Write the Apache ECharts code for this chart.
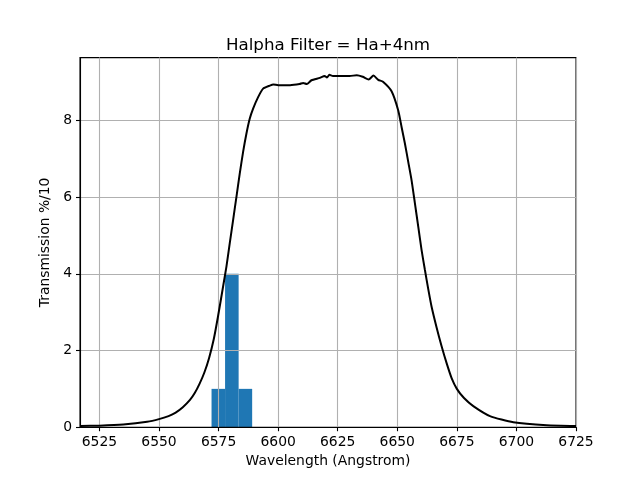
<!DOCTYPE html>
<html lang="en">
<head>
    <meta charset="UTF-8">
    <title>Halpha Filter = Ha+4nm</title>
    <script src="https://cdn.jsdelivr.net/npm/echarts@6/dist/echarts.min.js"></script>
    <style>
        html, body { margin: 0; padding: 0; background: #fff; }
    </style>
</head>
<body>
<div id="main" style="width: 640px;height:480px;"></div>

<script type="text/javascript">
    // filter transmission curve
    var wavelength = [6517, 6525, 6535, 6545, 6550, 6554, 6557, 6560, 6563, 6565,
        6567, 6569, 6571, 6573, 6574.8, 6576.9, 6578.3, 6579.7, 6581.1, 6582.5,
        6583.9, 6585.3, 6586.7, 6588.1, 6589.5, 6591.6, 6593.7, 6596.5, 6598, 6600,
        6605, 6609, 6610.5, 6612, 6614, 6617.5, 6619.5, 6620.5, 6621.5, 6623,
        6630, 6633, 6635.5, 6638, 6640, 6642, 6644, 6647.6, 6650.4, 6651.8,
        6653.2, 6654.6, 6656, 6657.4, 6658.8, 6660.2, 6661.6, 6663, 6664.4, 6666.5,
        6668.6, 6670.7, 6672.8, 6675, 6678, 6681.9, 6688.9, 6698.7, 6712.7, 6725];
    var transmission = [0.03, 0.04, 0.07, 0.14, 0.21, 0.29, 0.38, 0.52, 0.71, 0.89,
        1.13, 1.42, 1.80, 2.30, 2.90, 3.67, 4.19, 4.80, 5.40, 6.01,
        6.62, 7.18, 7.66, 8.05, 8.31, 8.61, 8.83, 8.91, 8.94, 8.92,
        8.92, 8.95, 8.98, 8.95, 9.05, 9.11, 9.16, 9.12, 9.19, 9.16,
        9.16, 9.18, 9.14, 9.07, 9.17, 9.06, 9.01, 8.76, 8.26, 7.83,
        7.40, 6.92, 6.44, 5.84, 5.23, 4.62, 4.10, 3.60, 3.14, 2.60,
        2.11, 1.67, 1.28, 1.00, 0.76, 0.55, 0.29, 0.13, 0.05, 0.03];

    // histogram of lines
    var binEdges = [6572.05, 6577.73, 6583.42, 6589.1];
    var binCounts = [1, 4, 1];

    var xTicks = [6525, 6550, 6575, 6600, 6625, 6650, 6675, 6700, 6725];
    var yTicks = [0, 2, 4, 6, 8];

    var lineData = wavelength.map(function (w, i) { return [w, transmission[i]]; });
    var histData = binCounts.map(function (c, i) { return [binEdges[i], binEdges[i + 1], c]; });

    var font = 'DejaVu Sans';
    var myChart = echarts.init(document.getElementById('main'));

    var option = {
        animation: false,
        title: {
            text: 'Halpha Filter = Ha+4nm',
            left: 323,
            textAlign: 'center',
            top: 32,
            textStyle: { fontFamily: font, fontSize: 16.7, fontWeight: 'normal', color: '#000' }
        },
        grid: {
            left: 80, right: 64, top: 57.6, bottom: 52.8,
            show: true, borderColor: '#000', borderWidth: 1.1, z: 2
        },
        xAxis: {
            type: 'value',
            min: 6516.85,
            max: 6725,
            z: 2,
            name: 'Wavelength (Angstrom)',
            nameLocation: 'middle',
            nameGap: 26,
            nameTextStyle: { fontFamily: font, fontSize: 13.9, color: '#000' },
            axisLine: { lineStyle: { color: '#000', width: 1.1 } },
            axisTick: { customValues: xTicks, length: 4, lineStyle: { color: '#000', width: 1.1 } },
            axisLabel: {
                customValues: xTicks, margin: 8, fontFamily: font, fontSize: 13.9, color: '#000',
                formatter: function (v) { return String(v); }
            },
            splitLine: { show: true, lineStyle: { color: '#b0b0b0', width: 1.1 } }
        },
        yAxis: {
            type: 'value',
            min: 0,
            max: 9.64,
            z: 2,
            name: 'Transmission %/10',
            nameLocation: 'middle',
            nameGap: 20,
            nameTextStyle: { fontFamily: font, fontSize: 13.9, color: '#000' },
            axisLine: { show: true, lineStyle: { color: '#000', width: 1.1 } },
            axisTick: { show: true, customValues: yTicks, length: 4, lineStyle: { color: '#000', width: 1.1 } },
            axisLabel: { customValues: yTicks, margin: 8, fontFamily: font, fontSize: 13.9, color: '#000' },
            splitLine: { show: true, lineStyle: { color: '#b0b0b0', width: 1.1 } }
        },
        series: [
            {
                type: 'custom',
                z: 1,
                data: histData,
                encode: { x: [0, 1], y: 2 },
                renderItem: function (params, api) {
                    var p0 = api.coord([api.value(0), api.value(2)]);
                    var p1 = api.coord([api.value(1), 0]);
                    return {
                        type: 'rect',
                        shape: { x: p0[0], y: p0[1], width: p1[0] - p0[0], height: p1[1] - p0[1] },
                        style: { fill: '#1f77b4' }
                    };
                }
            },
            {
                type: 'line',
                z: 3,
                data: lineData,
                showSymbol: false,
                smooth: 0.2,
                lineStyle: { color: '#000', width: 2 }
            }
        ]
    };

    myChart.setOption(option);
</script>
</body>
</html>
